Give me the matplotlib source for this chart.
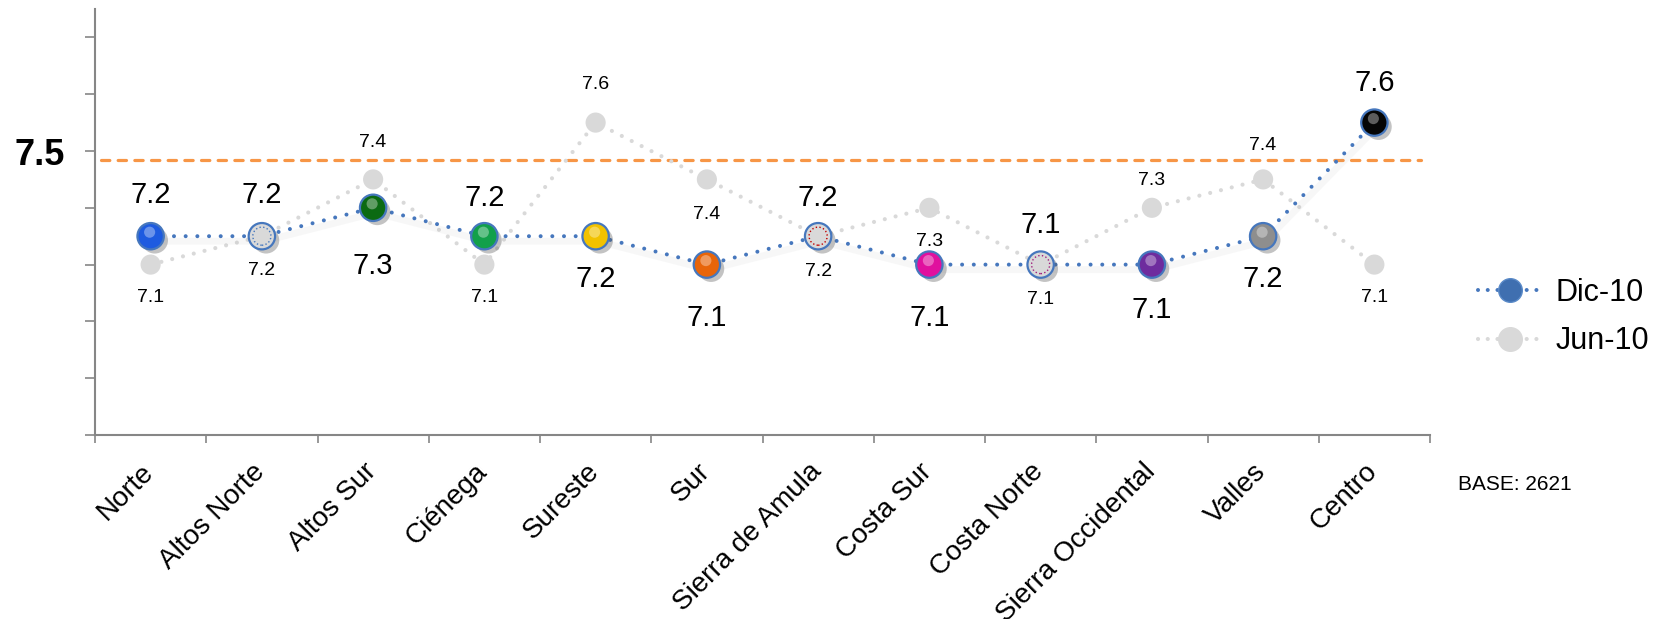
import matplotlib
matplotlib.use("Agg")
import matplotlib.pyplot as plt
import matplotlib.patheffects as pe
from matplotlib.lines import Line2D
from matplotlib.transforms import ScaledTranslation, blended_transform_factory
import numpy as np

# ---------------- data ----------------
categories = ['Norte', 'Altos Norte', 'Altos Sur', 'Ciénega', 'Sureste', 'Sur',
              'Sierra de Amula', 'Costa Sur', 'Costa Norte', 'Sierra Occidental',
              'Valles', 'Centro']
dic10 = [7.2, 7.2, 7.3, 7.2, 7.2, 7.1, 7.2, 7.1, 7.1, 7.1, 7.2, 7.6]
jun10 = [7.1, 7.2, 7.4, 7.1, 7.6, 7.4, 7.2, 7.3, 7.1, 7.3, 7.4, 7.1]
series_names = ['Dic-10', 'Jun-10']
ref_value = 7.47
ref_label = '7.5'
base_note = 'BASE: 2621'

# ---------------- styles ----------------
plt.rcParams['font.family'] = ['Liberation Sans', 'DejaVu Sans']
plt.rcParams['lines.scale_dashes'] = False

DIC_COLOR = '#4677BD'
JUN_COLOR = '#D9D9D9'
REF_COLOR = '#F79646'
AX_COLOR = '#868686'
dic_marker_colors = ['#1E5BE0', '#D9D9D9', '#0B6A12', '#12A04A', '#F2C200', '#E8650A',
                     '#D9D9D9', '#E0109E', '#D9D9D9', '#6E2C9E', '#8E8E8E', '#050505']
dic_ring_colors = ['none', '#4677BD', 'none', 'none', 'none', 'none',
                   '#C00000', 'none', '#A0207F', 'none', 'none', 'none']
# label offsets in pixels (positive = up)
dic_lab_off = [41, 41, -58, 38, -43, -53, 38, -53, 40, -45, -43, 40]
jun_lab_off = [-33, -34, 37, -33, 38, -35, -35, -34, -35, 27, 34, -33]

W, H, DPI = 1665, 619, 100
fig = plt.figure(figsize=(W / DPI, H / DPI), dpi=DPI)
fig.patch.set_facecolor('white')
ax = fig.add_axes([95 / W, 1 - 435 / H, (1430 - 95) / W, (435 - 9) / H])

x = np.arange(len(categories))

# Jun-10 series
ax.plot(x, jun10, color=JUN_COLOR, lw=3.0, linestyle=(0, (0.01, 8.0)),
        dash_capstyle='round', zorder=2)
ax.scatter(x, jun10, s=14.5 ** 2, color=JUN_COLOR, edgecolors='none', zorder=3)

# Dic-10 series shadow + line
shadow_tr = ax.transData + ScaledTranslation(2 / DPI, -5 / DPI, fig.dpi_scale_trans)
ax.plot(x, dic10, color='#9a9a9a', lw=5, alpha=0.07, transform=shadow_tr,
        solid_capstyle='round', zorder=3.5)
ax.plot(x, dic10, color=DIC_COLOR, lw=2.9, linestyle=(0, (0.01, 8.4)),
        dash_capstyle='round', zorder=4)

# Dic-10 markers (sphere-like)
ax.scatter(x, dic10, s=19 ** 2, c=dic_marker_colors, edgecolors=DIC_COLOR,
           linewidths=1.6, zorder=5,
           path_effects=[pe.SimplePatchShadow(offset=(3, -3), shadow_rgbFace='#555555',
                                               alpha=0.35), pe.Normal()])
hl_tr = ax.transData + ScaledTranslation(-1 / DPI, 4 / DPI, fig.dpi_scale_trans)
hl_mask = [c != '#D9D9D9' for c in dic_marker_colors]
ax.scatter(x[hl_mask], np.array(dic10)[hl_mask], s=8 ** 2, color='white', alpha=0.35,
           edgecolors='none', transform=hl_tr, zorder=6)
ring_mask = [c != 'none' for c in dic_ring_colors]
ax.scatter(x[ring_mask], np.array(dic10)[ring_mask], s=13 ** 2, facecolors='none',
           edgecolors=[c for c in dic_ring_colors if c != 'none'], linewidths=1.0,
           linestyles=':', zorder=6)

# data labels
for i in range(len(categories)):
    ax.annotate(f'{dic10[i]:.1f}', (x[i], dic10[i]), xytext=(0, dic_lab_off[i]),
                textcoords='offset pixels', ha='center', va='center',
                fontsize=21, color='black', zorder=7)
    ax.annotate(f'{jun10[i]:.1f}', (x[i], jun10[i]), xytext=(0, jun_lab_off[i]),
                textcoords='offset pixels', ha='center', va='center',
                fontsize=14, color='black', zorder=7)

# reference line
ax.plot([-0.45, 11.42], [ref_value, ref_value], color=REF_COLOR, lw=2.3,
        linestyle=(0, (6.0, 6.0)), dash_capstyle='round', zorder=1)
btr = blended_transform_factory(ax.transAxes, ax.transData)
ax.annotate(ref_label, (0, ref_value), xycoords=btr, xytext=(-30, 4),
            textcoords='offset pixels', ha='right', va='center',
            fontsize=26, fontweight='bold', color='black')

# axes styling
ax.set_xlim(-0.5, len(categories) - 0.5)
ax.set_ylim(6.5, 8.0)
for s in ['top', 'right']:
    ax.spines[s].set_visible(False)
for s in ['left', 'bottom']:
    ax.spines[s].set_color(AX_COLOR)
    ax.spines[s].set_linewidth(1.5)
ax.set_yticks(np.arange(6.5, 7.95, 0.2))
ax.set_yticklabels([])
ax.tick_params(axis='y', direction='out', length=7.5, width=1.2, color=AX_COLOR)
ax.set_xticks(np.arange(-0.5, len(categories), 1.0), minor=True)
ax.set_xticks(x)
ax.set_xticklabels(categories, rotation=45, ha='right', va='top',
                   rotation_mode='anchor', fontsize=20)
ax.tick_params(axis='x', which='major', length=0, pad=17)
ax.tick_params(axis='x', which='minor', direction='out', length=6, width=1.2, color=AX_COLOR)
for lab in ax.get_xticklabels():
    lab.set_transform(lab.get_transform() + ScaledTranslation(-10 / DPI, 0, fig.dpi_scale_trans))

# legend
h_dic = Line2D([], [], color=DIC_COLOR, lw=2.9, linestyle=(0, (0.01, 7.0)),
               dash_capstyle='round', marker='o', markersize=17,
               markerfacecolor='#3F6FB0', markeredgecolor='#5A8AC8', markeredgewidth=1)
h_jun = Line2D([], [], color=JUN_COLOR, lw=3.0, linestyle=(0, (0.01, 7.0)),
               dash_capstyle='round', marker='o', markersize=17,
               markerfacecolor=JUN_COLOR, markeredgecolor=JUN_COLOR)
fig.legend([h_dic, h_jun], series_names, loc='center left',
           bbox_to_anchor=(1478 / W, 1 - 317 / H), frameon=False, fontsize=22,
           handlelength=2.1, handletextpad=0.45, labelspacing=0.62,
           borderpad=0, borderaxespad=0, numpoints=1)

fig.text(1458 / W, 1 - 485 / H, base_note, fontsize=15, ha='left', va='center')

fig.savefig('out.png', dpi=DPI, facecolor='white')
